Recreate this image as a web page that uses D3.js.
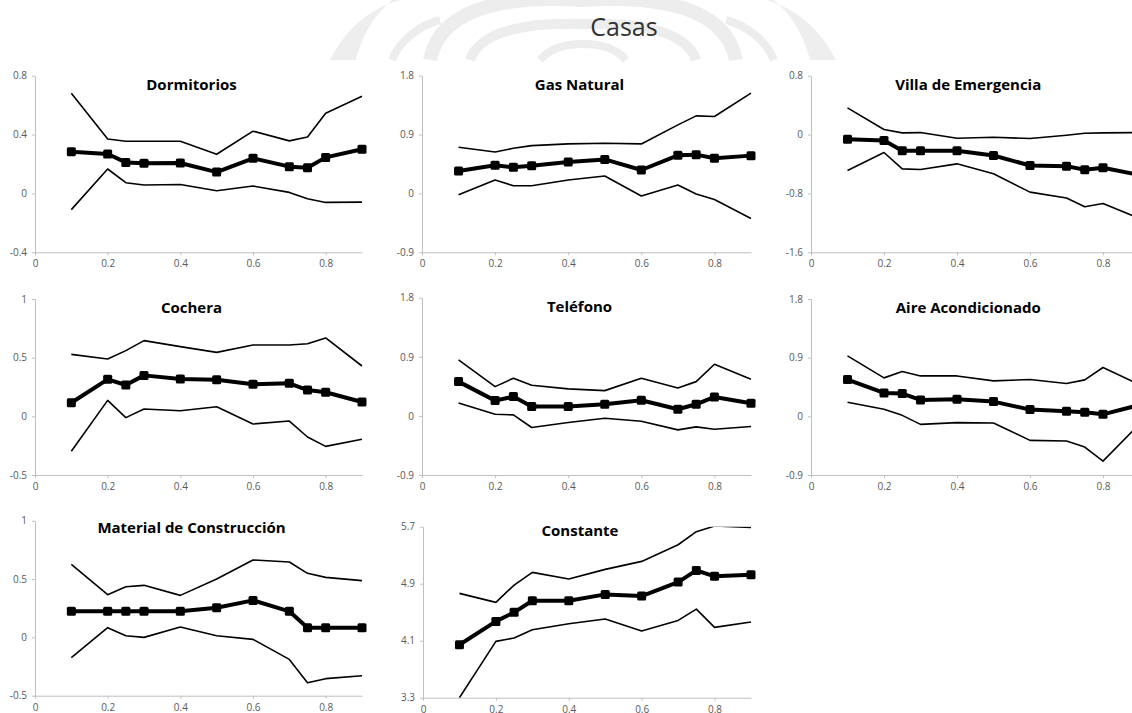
<!DOCTYPE html>
<html>
<head>
<meta charset="utf-8">
<script src="https://cdn.jsdelivr.net/npm/d3@7"></script>
<style>
  body { margin: 0; background: #fff; }
  svg { display: block; font-family: "Open Sans", sans-serif; }
</style>
</head>
<body>
<div id="chart"></div>
<script>
// quantiles on the x axis
const quantiles = [0.1, 0.2, 0.25, 0.3, 0.4, 0.5, 0.6, 0.7, 0.75, 0.8, 0.9];
const xTicks = [0, 0.2, 0.4, 0.6, 0.8];

const titles = ['Dormitorios', 'Gas Natural', 'Villa de Emergencia', 'Cochera',
  'Teléfono', 'Aire Acondicionado', 'Material de Construcción', 'Constante'];

const yTicks = [
  [-0.4, 0, 0.4, 0.8],
  [-0.9, 0, 0.9, 1.8],
  [-1.6, -0.8, 0, 0.8],
  [-0.5, 0, 0.5, 1],
  [-0.9, 0, 0.9, 1.8],
  [-0.9, 0, 0.9, 1.8],
  [-0.5, 0, 0.5, 1],
  [3.3, 4.1, 4.9, 5.7],
];

// estimate + upper / lower band, one triple per panel
const dormitoriosEst = [0.284, 0.268, 0.211, 0.205, 0.207, 0.145, 0.239, 0.182, 0.175, 0.245, 0.30];
const dormitoriosUp  = [0.68, 0.37, 0.355, 0.355, 0.355, 0.266, 0.423, 0.357, 0.384, 0.545, 0.66];
const dormitoriosLow = [-0.11, 0.166, 0.073, 0.057, 0.061, 0.018, 0.05, 0.007, -0.036, -0.061, -0.059];

const gasEst = [0.343, 0.43, 0.40, 0.424, 0.48, 0.52, 0.358, 0.583, 0.593, 0.537, 0.578];
const gasUp  = [0.706, 0.634, 0.69, 0.731, 0.757, 0.767, 0.757, 1.048, 1.186, 1.176, 1.534];
const gasLow = [-0.02, 0.205, 0.118, 0.118, 0.205, 0.266, -0.04, 0.128, -0.01, -0.092, -0.384];

const villaEst = [-0.063, -0.081, -0.221, -0.221, -0.221, -0.285, -0.42, -0.429, -0.479, -0.452, -0.55];
const villaUp  = [0.362, 0.068, 0.023, 0.027, -0.05, -0.036, -0.054, -0.009, 0.018, 0.023, 0.027];
const villaLow = [-0.488, -0.244, -0.466, -0.475, -0.398, -0.533, -0.782, -0.863, -0.981, -0.936, -1.14];

const cocheraEst = [0.116, 0.315, 0.267, 0.349, 0.318, 0.312, 0.273, 0.281, 0.224, 0.205, 0.122];
const cocheraUp  = [0.528, 0.489, 0.56, 0.645, 0.594, 0.545, 0.608, 0.608, 0.619, 0.668, 0.429];
const cocheraLow = [-0.298, 0.136, -0.011, 0.062, 0.048, 0.082, -0.065, -0.04, -0.176, -0.256, -0.196];

const telefonoEst = [0.522, 0.233, 0.294, 0.142, 0.142, 0.177, 0.238, 0.101, 0.177, 0.289, 0.193];
const telefonoUp  = [0.852, 0.446, 0.573, 0.466, 0.411, 0.385, 0.573, 0.426, 0.522, 0.786, 0.558];
const telefonoLow = [0.198, 0.025, 0.015, -0.177, -0.101, -0.035, -0.081, -0.213, -0.167, -0.203, -0.162];

const aireEst = [0.564, 0.359, 0.349, 0.251, 0.262, 0.226, 0.103, 0.077, 0.062, 0.031, 0.174];
const aireUp  = [0.928, 0.59, 0.687, 0.62, 0.62, 0.544, 0.564, 0.503, 0.559, 0.749, 0.487];
const aireLow = [0.215, 0.108, 0.015, -0.123, -0.097, -0.103, -0.369, -0.379, -0.472, -0.687, -0.118];

const materialEst = [0.223, 0.223, 0.223, 0.223, 0.223, 0.254, 0.317, 0.223, 0.083, 0.083, 0.083];
const materialUp  = [0.626, 0.366, 0.434, 0.446, 0.36, 0.5, 0.663, 0.646, 0.549, 0.514, 0.486];
const materialLow = [-0.174, 0.083, 0.014, 0, 0.089, 0.014, -0.017, -0.189, -0.389, -0.354, -0.329];

const constanteEst = [4.044, 4.371, 4.498, 4.661, 4.661, 4.75, 4.727, 4.923, 5.087, 5.003, 5.026];
const constanteUp  = [4.764, 4.638, 4.881, 5.059, 4.965, 5.101, 5.213, 5.447, 5.63, 5.709, 5.69];
const constanteLow = [3.3, 4.091, 4.137, 4.254, 4.339, 4.404, 4.236, 4.385, 4.544, 4.287, 4.362];

const estimates = [dormitoriosEst, gasEst, villaEst, cocheraEst, telefonoEst, aireEst, materialEst, constanteEst];
const uppers = [dormitoriosUp, gasUp, villaUp, cocheraUp, telefonoUp, aireUp, materialUp, constanteUp];
const lowers = [dormitoriosLow, gasLow, villaLow, cocheraLow, telefonoLow, aireLow, materialLow, constanteLow];

// plot boxes (axis origin, size, title centre)
const boxes = [
  { left: 35, top: 75.7, w: 327, h: 176.6, ty: 85 },
  { left: 422, top: 75.7, w: 329, h: 176.6, ty: 85 },
  { left: 811, top: 75.7, w: 328.5, h: 176.6, ty: 85 },
  { left: 35, top: 299, w: 327, h: 176, ty: 308.3 },
  { left: 422, top: 297.7, w: 329, h: 177.3, ty: 307.3 },
  { left: 811, top: 299, w: 328.5, h: 176, ty: 308.3 },
  { left: 35, top: 520.7, w: 327, h: 175, ty: 528.3 },
  { left: 423, top: 526.7, w: 328, h: 171, ty: 530.7 },
];

const W = 1132, H = 713;
const svg = d3.select('#chart').append('svg').attr('width', W).attr('height', H);

// faint watermark behind the title (only its lower part is left visible)
const wm = svg.append('g').attr('fill', 'none').attr('stroke', '#ededed');
wm.append('path').attr('stroke-width', 14)
  .attr('d', 'M430,60 C440,10 500,-5 583,0 C666,-5 726,10 736,60');
wm.append('path').attr('stroke-width', 10)
  .attr('d', 'M470,60 C480,30 530,22 583,24 C636,22 686,30 696,60');
wm.append('path').attr('fill', '#eeeeee').attr('stroke', 'none')
  .attr('d', 'M330,60 C345,30 370,8 400,0 L392,0 C372,18 362,36 356,60 Z');
wm.append('path').attr('fill', '#eeeeee').attr('stroke', 'none')
  .attr('d', 'M836,60 C821,30 796,8 766,0 L774,0 C794,18 804,36 810,60 Z');
wm.append('path').attr('stroke-width', 8)
  .attr('d', 'M392,60 C400,40 420,25 440,20 M774,60 C766,40 746,25 726,20');
wm.append('path').attr('stroke-width', 8)
  .attr('d', 'M540,60 C550,48 566,44 583,44 C600,44 616,48 626,60');

svg.append('text')
  .attr('x', 624).attr('y', 36)
  .attr('text-anchor', 'middle')
  .style('font-size', '25px')
  .attr('fill', '#333')
  .text('Casas');

titles.forEach((title, i) => {
  const b = boxes[i];
  const ticks = yTicks[i];
  const x = d3.scaleLinear().domain([0, 0.9]).range([0, b.w]);
  const y = d3.scaleLinear().domain([ticks[0], ticks[ticks.length - 1]]).range([b.h, 0]);

  const g = svg.append('g').attr('transform', `translate(${b.left},${b.top})`);

  const xAxis = g.append('g')
    .attr('transform', `translate(0,${b.h})`)
    .call(d3.axisBottom(x).tickValues(xTicks).tickFormat(d => String(d))
      .tickSize(3).tickSizeOuter(0).tickPadding(5));
  const yAxis = g.append('g')
    .call(d3.axisLeft(y).tickValues(ticks).tickFormat(d => String(d))
      .tickSize(3).tickSizeOuter(0).tickPadding(5));

  [xAxis, yAxis].forEach(a => {
    a.select('.domain').attr('stroke', '#bfbfbf');
    a.selectAll('.tick line').attr('stroke', '#bfbfbf');
    a.selectAll('.tick text').attr('fill', '#595959').style('font-size', '10px')
      .style('font-family', '"Open Sans", sans-serif');
  });

  const line = d3.line().x((d, j) => x(quantiles[j])).y(d => y(d));

  const clipId = 'clip' + i;
  g.append('clipPath').attr('id', clipId)
    .append('rect').attr('x', 0).attr('y', 0).attr('width', b.w + 10).attr('height', b.h);

  const plot = g.append('g').attr('clip-path', `url(#${clipId})`);

  [uppers[i], lowers[i]].forEach(s => {
    plot.append('path').datum(s)
      .attr('d', line)
      .attr('fill', 'none')
      .attr('stroke', '#000')
      .attr('stroke-width', 1.6)
      .attr('stroke-linejoin', 'round');
  });

  g.append('path').datum(estimates[i])
    .attr('d', line)
    .attr('fill', 'none')
    .attr('stroke', '#000')
    .attr('stroke-width', 4)
    .attr('stroke-linejoin', 'round');

  g.selectAll('rect.mk').data(estimates[i]).join('rect')
    .attr('class', 'mk')
    .attr('x', (d, j) => x(quantiles[j]) - 4.5)
    .attr('y', d => y(d) - 4.5)
    .attr('width', 9).attr('height', 9)
    .attr('rx', 1.5)
    .attr('fill', '#000');

  svg.append('text')
    .attr('x', b.left + b.w / 2 - 7)
    .attr('y', b.ty + 5)
    .attr('text-anchor', 'middle')
    .style('font-size', '15px')
    .style('font-weight', 'bold')
    .attr('fill', '#000')
    .text(title);
});
</script>
</body>
</html>
